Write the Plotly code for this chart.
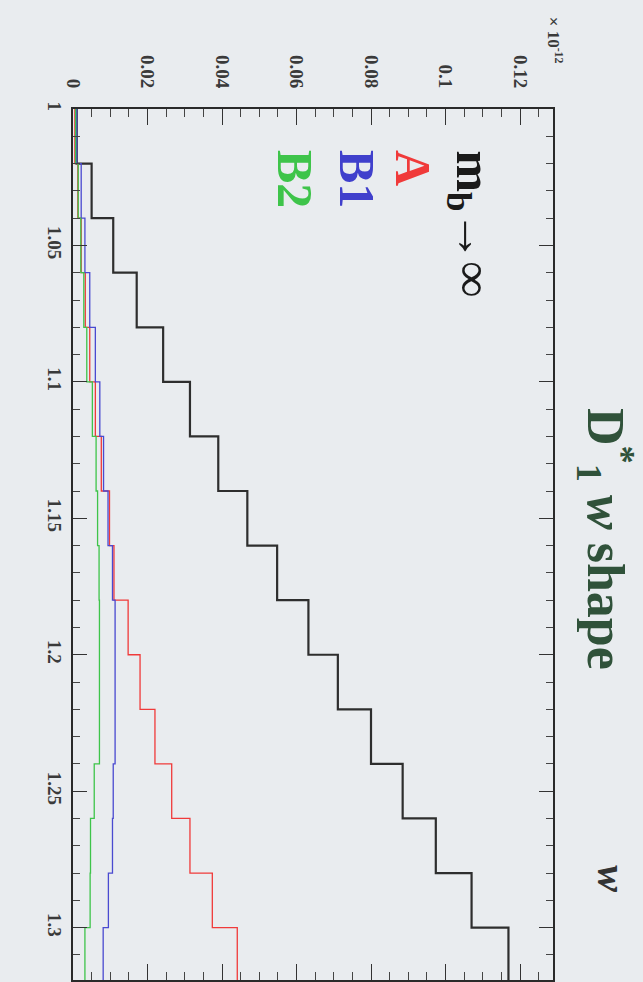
import plotly.graph_objects as go

# ---- data ----
w_edges = [1.00, 1.02, 1.04, 1.06, 1.08, 1.10, 1.12, 1.14, 1.16, 1.18,
           1.20, 1.22, 1.24, 1.26, 1.28, 1.30, 1.32]
mb_inf = [0.0010, 0.0050, 0.0108, 0.0171, 0.0242, 0.0314, 0.0390, 0.0468,
          0.0548, 0.0632, 0.0711, 0.0800, 0.0885, 0.0974, 0.1070, 0.1169]
model_A = [0.0005, 0.0013, 0.0022, 0.0033, 0.0045, 0.0060, 0.0076, 0.0098,
           0.0110, 0.0148, 0.0180, 0.0220, 0.0265, 0.0314, 0.0374, 0.0441]
model_B1 = [0.0010, 0.0022, 0.0032, 0.0045, 0.0060, 0.0072, 0.0082, 0.0094,
            0.0106, 0.0113, 0.0113, 0.0113, 0.0108, 0.0106, 0.0095, 0.0081]
model_B2 = [0.0007, 0.0014, 0.0021, 0.0029, 0.0037, 0.0052, 0.0062, 0.0066,
            0.0070, 0.0071, 0.0071, 0.0071, 0.0057, 0.0047, 0.0046, 0.0032]

val_ticks = [0, 0.02, 0.04, 0.06, 0.08, 0.10, 0.12]
val_labels = ["0", "0.02", "0.04", "0.06", "0.08", "0.1", "0.12"]
w_ticks = [1.00, 1.05, 1.10, 1.15, 1.20, 1.25, 1.30]
w_labels = ["1", "1.05", "1.1", "1.15", "1.2", "1.25", "1.3"]

series = [
    ("m_b→∞", mb_inf, "#2e2e2e", 2.2),
    ("A", model_A, "#f03a3a", 1.3),
    ("B1", model_B1, "#4a4ad0", 1.3),
    ("B2", model_B2, "#3ec44a", 1.3),
]

W, H = 643, 982
L, T, R, B = 73, 109, 553, 982
BG = "#e9ecef"


def px(x):
    return (x - L) / (R - L)


def py(y):
    return 1 - (y - T) / (B - T)


fig = go.Figure()
for name, vals, color, lw in series:
    xs = list(vals) + [vals[-1]]
    fig.add_trace(go.Scatter(
        x=xs, y=w_edges, mode="lines", name=name,
        line=dict(color=color, width=lw, shape="vh"),
        showlegend=False, hoverinfo="skip"))

serif = "Liberation Serif, Times New Roman, serif"
tickfont = dict(family=serif, size=19, color="#3a3a3a", weight="bold")

fig.update_xaxes(
    range=[0, (R - L) / 3725.0], side="top",
    tickvals=val_ticks, ticktext=val_labels, tickangle=90, tickfont=tickfont,
    ticks="inside", ticklen=16, tickwidth=1.3, tickcolor="#333",
    minor=dict(dtick=0.005, tick0=0, ticks="inside", ticklen=8,
               tickwidth=1, tickcolor="#444"),
    showline=True, linewidth=2.2, linecolor="#2a2a2a", mirror="ticks",
    showgrid=False, zeroline=False, ticklabelstandoff=12)

fig.update_yaxes(
    range=[1 + (B - T) / 2735.0, 1.0],
    tickvals=w_ticks, ticktext=w_labels, tickangle=90, tickfont=tickfont,
    ticks="inside", ticklen=14, tickwidth=1.3, tickcolor="#333",
    minor=dict(dtick=0.01, tick0=1.0, ticks="inside", ticklen=7,
               tickwidth=1, tickcolor="#444"),
    showline=True, linewidth=2.2, linecolor="#2a2a2a", mirror="ticks",
    showgrid=False, zeroline=False, ticklabelstandoff=0)

ann = []
# exponent label
ann.append(dict(x=px(555), y=py(14), xref="paper", yref="paper",
                text="× 10<sup>-12</sup>", textangle=90, showarrow=False,
                xanchor="center", yanchor="top",
                font=dict(family=serif, size=17, color="#3a3a3a",
                          weight="bold")))
# legend texts
leg = [
    ("m<sub>b</sub>→∞", "#1a1a1a", 470),
    ("A", "#f03a3a", 413),
    ("B1", "#4040cc", 357),
    ("B2", "#3ec44a", 295),
]
for txt, col, xc in leg:
    ann.append(dict(x=px(xc), y=py(148), xref="paper", yref="paper",
                    text=txt, textangle=90, showarrow=False,
                    xanchor="center", yanchor="top",
                    font=dict(family=serif, size=50, color=col,
                              weight="bold")))
# title
ann.append(dict(x=px(606), y=py(540), xref="paper", yref="paper",
                text="D<sup>*</sup><sub>1</sub> <i>w</i> shape", textangle=90,
                showarrow=False, xanchor="center", yanchor="middle",
                font=dict(family=serif, size=52, color="#30523a",
                          weight="bold")))
# axis title w
ann.append(dict(x=px(612), y=py(880), xref="paper", yref="paper",
                text="<i>w</i>", textangle=90, showarrow=False,
                xanchor="center", yanchor="middle",
                font=dict(family=serif, size=40, color="#333",
                          weight="bold")))

fig.update_layout(
    width=W, height=H,
    margin=dict(l=L, r=W - R, t=T, b=H - B, pad=0),
    paper_bgcolor=BG, plot_bgcolor=BG,
    annotations=ann, showlegend=False)

fig.write_html("out.html")
